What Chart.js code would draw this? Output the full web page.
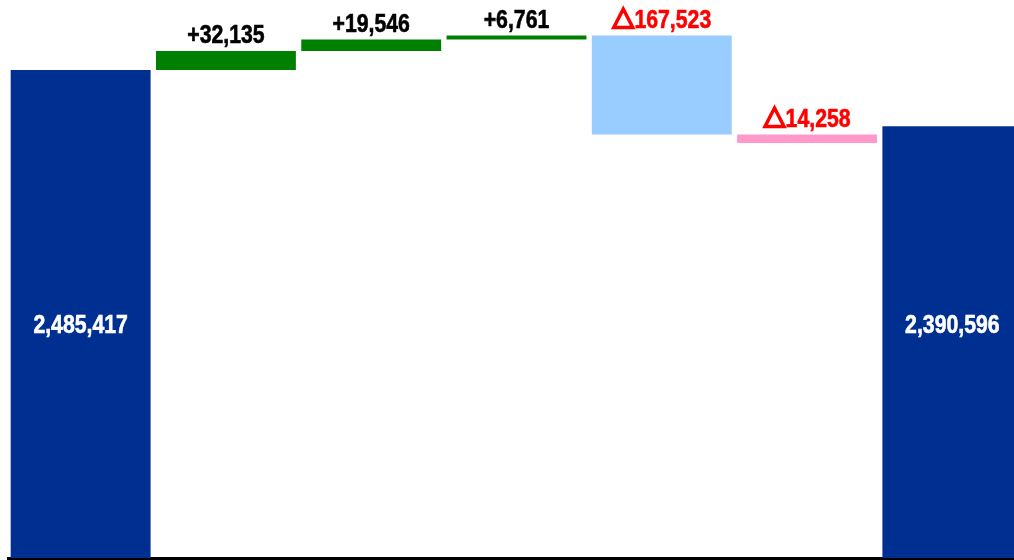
<!DOCTYPE html>
<html>
<head>
<meta charset="utf-8">
<title>Waterfall</title>
<script src="https://cdn.jsdelivr.net/npm/chart.js@4.4.1/dist/chart.umd.min.js"></script>
<style>
  html, body { margin: 0; padding: 0; background: #fff; overflow: hidden; }
  #wrap { position: relative; width: 1033px; height: 560px; }
</style>
</head>
<body>
<div id="wrap"><canvas id="chart"></canvas></div>
<script>
// values
const categories = ["Start", "Increase 1", "Increase 2", "Increase 3", "Decrease 1", "Decrease 2", "End"];
const startTotal = 2485417;
const changes = [32135, 19546, 6761, -167523, -14258];
const endTotal = 2390596;

// value axis window
const axisMin = 1660000;
const axisMax = 2604000;

const TOTAL_COLOR = "#002F92";
const UP_COLOR = "#008000";
const DOWN_COLORS = ["#99CCFF", "#FF99CC"];
const LABEL_FONT = "bold 25px 'Liberation Sans', sans-serif";
const MARK_FONT = "bold 24px 'Noto Sans CJK JP', sans-serif";
const LABEL_SQUEEZE = 0.85; // condensed look for the numbers

const fmt = n => Math.abs(n).toLocaleString("en-US");

// build floating bars: totals rise from the axis, changes float on the running sum
const barData = [startTotal];
const barColors = [TOTAL_COLOR];
const barLabels = [fmt(startTotal)];
let running = startTotal;
let downIdx = 0;
changes.forEach(c => {
  barData.push([running, running + c]);
  running += c;
  if (c >= 0) {
    barColors.push(UP_COLOR);
    barLabels.push("+" + fmt(c));
  } else {
    barColors.push(DOWN_COLORS[downIdx++ % DOWN_COLORS.length]);
    barLabels.push("△" + fmt(c));
  }
});
barData.push(endTotal);
barColors.push(TOTAL_COLOR);
barLabels.push(fmt(endTotal));

// numbers are squeezed sideways; a leading △ is drawn heavier with a stroke
function drawLabel(ctx, text, x, y) {
  let mark = "";
  let num = text;
  if (text.startsWith("△")) {
    mark = "△";
    num = text.slice(1);
  }
  ctx.font = MARK_FONT;
  const markW = mark ? ctx.measureText(mark).width * 0.92 : 0;
  ctx.font = LABEL_FONT;
  const numW = ctx.measureText(num).width * LABEL_SQUEEZE;
  const left = x - (markW + numW) / 2;
  ctx.textAlign = "left";
  ctx.strokeStyle = ctx.fillStyle;
  if (mark) {
    ctx.save();
    ctx.font = MARK_FONT;
    ctx.translate(left, y);
    ctx.scale(0.92, 1);
    ctx.lineWidth = 2.6;
    ctx.lineJoin = "miter";
    ctx.fillText(mark, 0, 0);
    ctx.strokeText(mark, 0, 0);
    ctx.restore();
  }
  ctx.save();
  ctx.font = LABEL_FONT;
  ctx.translate(left + markW, y);
  ctx.scale(LABEL_SQUEEZE, 1);
  ctx.lineWidth = 0.6;
  ctx.fillText(num, 0, 0);
  ctx.strokeText(num, 0, 0);
  ctx.restore();
}

const valueLabels = {
  id: "valueLabels",
  afterDatasetsDraw(chart) {
    const ctx = chart.ctx;
    const meta = chart.getDatasetMeta(0);
    const area = chart.chartArea;
    ctx.save();
    meta.data.forEach((bar, i) => {
      const isTotal = i === 0 || i === meta.data.length - 1;
      if (isTotal) {
        ctx.fillStyle = "#ffffff";
        ctx.textBaseline = "middle";
        drawLabel(ctx, barLabels[i], bar.x, area.top + (area.bottom - area.top) * 0.585);
      } else {
        const top = Math.min(bar.y, bar.base);
        ctx.fillStyle = changes[i - 1] < 0 ? "#FF0000" : "#000000";
        ctx.textBaseline = "alphabetic";
        drawLabel(ctx, barLabels[i], bar.x, top - 8);
      }
    });
    ctx.restore();
  }
};

new Chart(document.getElementById("chart"), {
  type: "bar",
  data: {
    labels: categories,
    datasets: [{
      data: barData,
      backgroundColor: barColors,
      borderWidth: 0,
      barPercentage: 1,
      categoryPercentage: 0.963
    }]
  },
  options: {
    responsive: true,
    maintainAspectRatio: false,
    animation: false,
    layout: { padding: { left: 8, right: 8, top: 0, bottom: 2 } },
    plugins: {
      legend: { display: false },
      tooltip: { enabled: false }
    },
    scales: {
      x: {
        display: true,
        grid: { display: false, drawTicks: false },
        ticks: { display: false },
        border: { display: true, color: "#000000", width: 3 }
      },
      y: {
        display: false,
        min: axisMin,
        max: axisMax
      }
    }
  },
  plugins: [valueLabels]
});
</script>
</body>
</html>
